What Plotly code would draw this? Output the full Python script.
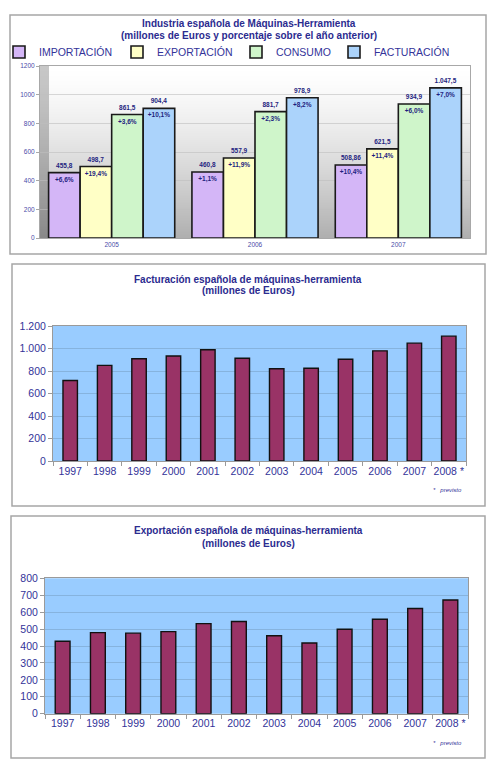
import base64
import struct
import zlib
import plotly.graph_objects as go

# ---------------- data ----------------
groups = ["2005", "2006", "2007"]
series_names = ["IMPORTACIÓN", "EXPORTACIÓN", "CONSUMO", "FACTURACIÓN"]
importacion = [455.8, 460.8, 508.86]
exportacion = [498.7, 557.9, 621.5]
consumo = [861.5, 881.7, 934.9]
facturacion = [904.4, 978.9, 1047.5]
importacion_pct = [6.6, 1.1, 10.4]
exportacion_pct = [19.4, 11.9, 11.4]
consumo_pct = [3.6, 2.3, 6.0]
facturacion_pct = [10.1, 8.2, 7.0]

years = ["1997", "1998", "1999", "2000", "2001", "2002", "2003", "2004",
         "2005", "2006", "2007", "2008 *"]
facturacion_hist = [716, 850, 909, 933, 989, 913, 820, 824, 904.4, 978.9, 1047.5, 1110]
exportacion_hist = [428, 479, 476, 485, 532, 545, 461, 418, 498.7, 557.9, 621.5, 672]

# the page body keeps its default 8px margin, so the figure fills the rest
OFF = 8
W, H = 500 - OFF, 769 - OFF
NAVY = "#333399"
FONT = "Liberation Sans, Arial, sans-serif"


def es_num(v):
    s = f"{v:,}"
    return s.replace(",", "X").replace(".", ",").replace("X", ".")


def es_pct(v):
    return "+" + f"{v:.1f}".replace(".", ",") + "%"


def px_x(p):
    return (p - OFF) / W


def px_y(p):
    return 1 - (p - OFF) / H


# gradient background image for the top chart plot area
def gradient_png(w, h, wall):
    rows = []
    for r in range(h):
        t = r / (h - 1)
        g = int(round(255 - 80 * t ** 1.4))
        gw = int(round(g * 0.78))
        row = bytearray([0])
        for c in range(w):
            v = gw if c < wall else g
            row += bytes([v, v, v])
        rows.append(bytes(row))
    raw = b"".join(rows)

    def chunk(tag, data):
        return (struct.pack(">I", len(data)) + tag + data +
                struct.pack(">I", zlib.crc32(tag + data) & 0xffffffff))

    png = b"\x89PNG\r\n\x1a\n"
    png += chunk(b"IHDR", struct.pack(">IIBBBBB", w, h, 8, 2, 0, 0, 0))
    png += chunk(b"IDAT", zlib.compress(raw, 9))
    png += chunk(b"IEND", b"")
    return "data:image/png;base64," + base64.b64encode(png).decode()


fig = go.Figure()

# ---------------- top chart ----------------
top_colors = ["#D4B6F7", "#FFFFC6", "#CFF5CA", "#ABD3FB"]
top_series = [importacion, exportacion, consumo, facturacion]
top_pcts = [importacion_pct, exportacion_pct, consumo_pct, facturacion_pct]
legend_ids = ["legend", "legend2", "legend3", "legend4"]
legend_text_x = [44, 162, 281, 379]

for i, (name, vals, col) in enumerate(zip(series_names, top_series, top_colors)):
    fig.add_trace(go.Bar(
        x=groups, y=vals, name=name, offsetgroup=str(i), legend=legend_ids[i],
        marker=dict(color=col, line=dict(color="#1a1a1a", width=1.6)),
        text=[f"<b>{es_num(v)}</b>" for v in vals], textposition="outside",
        textfont=dict(size=6.5, color="#1F1F80", family=FONT),
        cliponaxis=False, xaxis="x", yaxis="y", hoverinfo="skip",
    ))
for i, (vals, pcts) in enumerate(zip(top_series, top_pcts)):
    fig.add_trace(go.Bar(
        x=groups, y=vals, offsetgroup=str(i), showlegend=False,
        marker=dict(color="rgba(0,0,0,0)", line=dict(width=0)),
        text=[f"<b>{es_pct(p)}</b>" for p in pcts], textposition="inside",
        insidetextanchor="end", constraintext="none",
        textfont=dict(size=6.5, color="#1F1F80", family=FONT),
        xaxis="x", yaxis="y", hoverinfo="skip",
    ))

# ---------------- middle chart ----------------
fig.add_trace(go.Bar(
    x=years, y=facturacion_hist, width=0.42, showlegend=False,
    marker=dict(color="#993366", line=dict(color="#111111", width=1.4)),
    xaxis="x2", yaxis="y2", hoverinfo="skip",
))

# ---------------- bottom chart ----------------
fig.add_trace(go.Bar(
    x=years, y=exportacion_hist, width=0.42, showlegend=False,
    marker=dict(color="#993366", line=dict(color="#111111", width=1.4)),
    xaxis="x3", yaxis="y3", hoverinfo="skip",
))

tick_font_small = dict(size=6.5, color="#4B4BA8", family=FONT)
tick_font = dict(size=10.5, color=NAVY, family=FONT)

legends = {}
for lid, tx in zip(legend_ids, legend_text_x):
    legends[lid] = dict(orientation="h", x=px_x(tx - 45), y=px_y(52),
                        xanchor="left", yanchor="middle",
                        bgcolor="rgba(0,0,0,0)", itemwidth=30,
                        font=dict(size=10.5, color=NAVY, family=FONT))

fig.update_layout(
    width=W, height=H,
    margin=dict(l=0, r=0, t=0, b=0, pad=0, autoexpand=False),
    paper_bgcolor="white", plot_bgcolor="rgba(0,0,0,0)",
    separators=",.", barmode="group", bargap=0.12, bargroupgap=0,
    font=dict(family=FONT, color=NAVY),
    showlegend=True,
    **legends,
    xaxis=dict(domain=[px_x(40), px_x(470)], anchor="y", automargin=False,
               showline=True, mirror=True, linecolor="#A8A8A8", linewidth=1,
               ticks="", tickfont=tick_font_small, fixedrange=True),
    yaxis=dict(domain=[px_y(238), px_y(66)], anchor="x", range=[0, 1200],
               dtick=200, tickformat="d", showgrid=True, automargin=False,
               gridcolor="rgba(190,190,190,0.6)", gridwidth=1,
               showline=True, mirror=True, linecolor="#A8A8A8", linewidth=1,
               ticks="outside", ticklen=3, tickcolor="#A8A8A8",
               tickfont=tick_font_small, zeroline=False),
    xaxis2=dict(domain=[px_x(53), px_x(466)], anchor="y2", tickangle=0,
                automargin=False,
                showline=True, mirror=True, linecolor="#9A9A9A", linewidth=1,
                ticks="outside", tickson="boundaries", ticklen=4,
                tickcolor="#9A9A9A", tickfont=tick_font),
    yaxis2=dict(domain=[px_y(461), px_y(326)], anchor="x2", range=[0, 1200],
                dtick=200, tickformat=",d", showgrid=True, automargin=False,
                gridcolor="#86B3DE", gridwidth=1,
                showline=True, mirror=True, linecolor="#9A9A9A", linewidth=1,
                ticks="outside", ticklen=4, tickcolor="#9A9A9A",
                tickfont=tick_font, zeroline=False),
    xaxis3=dict(domain=[px_x(45), px_x(468)], anchor="y3", tickangle=0,
                automargin=False,
                showline=True, mirror=True, linecolor="#9A9A9A", linewidth=1,
                ticks="outside", tickson="boundaries", ticklen=4,
                tickcolor="#9A9A9A", tickfont=tick_font),
    yaxis3=dict(domain=[px_y(713.7), px_y(578.3)], anchor="x3", range=[0, 800],
                dtick=100, tickformat="d", showgrid=True, automargin=False,
                gridcolor="#86B3DE", gridwidth=1,
                showline=True, mirror=True, linecolor="#9A9A9A", linewidth=1,
                ticks="outside", ticklen=4, tickcolor="#9A9A9A",
                tickfont=tick_font, zeroline=False),
)

# backgrounds
fig.add_layout_image(dict(
    source=gradient_png(430, 172, 9), xref="x domain", yref="y domain",
    x=0, y=1, sizex=1, sizey=1, sizing="stretch", xanchor="left",
    yanchor="top", layer="below",
))
for ax in ("x2", "x3"):
    yax = "y" + ax[1:]
    fig.add_shape(type="rect", xref=f"{ax} domain", yref=f"{yax} domain",
                  x0=0, x1=1, y0=0, y1=1, fillcolor="#99CCFF",
                  line=dict(width=0), layer="below")

# panel borders
for (x0, y0, x1, y1) in [(10, 15, 486, 254), (12, 264, 485, 506), (11, 516, 485, 758)]:
    fig.add_shape(type="rect", xref="paper", yref="paper",
                  x0=px_x(x0), x1=px_x(x1), y0=px_y(y1), y1=px_y(y0),
                  line=dict(color="#A6A6A6", width=1.5), fillcolor="rgba(0,0,0,0)")

# titles
titles = [
    ("Industria española de Máquinas-Herramienta", 249, 24),
    ("(millones de Euros y porcentaje sobre el año anterior)", 249, 35.5),
    ("Facturación española de máquinas-herramienta", 248, 279),
    ("(millones de Euros)", 248, 290.5),
    ("Exportación española de máquinas-herramienta", 248, 530),
    ("(millones de Euros)", 248, 543),
]
for txt, cx, cy in titles:
    fig.add_annotation(text=f"<b>{txt}</b>", xref="paper", yref="paper",
                       x=px_x(cx), y=px_y(cy), showarrow=False,
                       xanchor="center", yanchor="middle",
                       font=dict(size=10, color="#2B2B8F", family=FONT))

for cy in (490, 743):
    fig.add_annotation(text="<i>*   previsto</i>", xref="paper", yref="paper",
                       x=px_x(431), y=px_y(cy), showarrow=False,
                       xanchor="left", yanchor="middle",
                       font=dict(size=6, color=NAVY, family=FONT))

fig.write_html("out.html")
